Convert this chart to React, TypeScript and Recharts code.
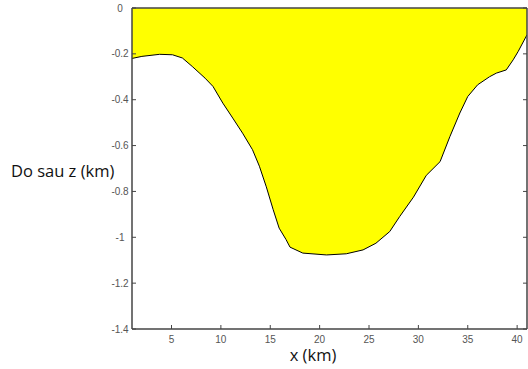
import React from 'react';
import { AreaChart, Area, XAxis, YAxis, Label } from 'recharts';

const distanceKm = [1, 2, 3.8, 5.1, 6.1, 7.1, 8.4, 9.2, 10.2, 11.2, 12.2, 13.2, 13.9, 14.6, 15.3, 15.9, 16.6, 17, 18.3, 20.7, 22.7, 24.4, 25.7, 27.1, 28.1, 29.5, 30.8, 32.2, 33.2, 34.2, 35, 36, 37.2, 37.9, 38.9, 39.6, 40.1, 41];
const depthKm = [-0.22, -0.211, -0.202, -0.204, -0.218, -0.255, -0.306, -0.342, -0.415, -0.48, -0.546, -0.618, -0.69, -0.78, -0.88, -0.96, -1.01, -1.043, -1.069, -1.077, -1.072, -1.055, -1.026, -0.975, -0.91, -0.825, -0.73, -0.67, -0.56, -0.458, -0.386, -0.335, -0.3, -0.284, -0.27, -0.226, -0.19, -0.117];
const xTicks = [5, 10, 15, 20, 25, 30, 35, 40];
const yTicks = [0, -0.2, -0.4, -0.6, -0.8, -1, -1.2, -1.4];
const xLabel = 'x (km)';
const yLabel = 'Do sau z (km)';

const data = distanceKm.map((x, i) => ({ x, z: depthKm[i] }));

const AXIS = '#444';
const TICK_TEXT = '#555';
const TICK_FONT = '"Liberation Sans", Arial, sans-serif';
const LABEL_FONT = '"Open Sans", sans-serif';

const LeftTick = (props: any) => {
  const { x, y, payload } = props;
  return (
    <g>
      <line x1={x} x2={x + 4} y1={y} y2={y} stroke={AXIS} strokeWidth={1} />
      <text x={x - 12} y={y} textAnchor="middle" dominantBaseline="central" fill={TICK_TEXT} fontSize={10} fontFamily={TICK_FONT}>
        {String(payload.value)}
      </text>
    </g>
  );
};

const RightTick = (props: any) => {
  const { x, y } = props;
  return <line x1={x - 4} x2={x} y1={y} y2={y} stroke={AXIS} strokeWidth={1} />;
};

const BottomTick = (props: any) => {
  const { x, y, payload } = props;
  return (
    <g>
      <line x1={x} x2={x} y1={y - 4} y2={y} stroke={AXIS} strokeWidth={1} />
      <text x={x} y={y + 10} textAnchor="middle" dominantBaseline="central" fill={TICK_TEXT} fontSize={10} fontFamily={TICK_FONT}>
        {String(payload.value)}
      </text>
    </g>
  );
};

const YLabelContent = (props: any) => {
  const vb = props.viewBox || {};
  return (
    <text x={vb.x + 11} y={vb.y + vb.height / 2 + 2} dominantBaseline="central" fill="#111" fontSize={16.5} fontFamily={LABEL_FONT}>
      {yLabel}
    </text>
  );
};

const XLabelContent = (props: any) => {
  const vb = props.viewBox || {};
  return (
    <text x={vb.x + vb.width / 2 - 16.5} y={vb.y + 25.5} textAnchor="middle" dominantBaseline="central" fill="#111" fontSize={16.5} fontFamily={LABEL_FONT}>
      {xLabel}
    </text>
  );
};

export default function App() {
  return (
    <div style={{ position: 'absolute', left: 0, top: 0, width: 528, height: 369, background: '#fff' }}>
      <AreaChart width={528} height={369} data={data} margin={{ top: 0, right: 0, bottom: 0, left: 0 }}>
        <XAxis
          dataKey="x"
          type="number"
          domain={[1, 41]}
          ticks={xTicks}
          interval={0}
          allowDataOverflow
          height={40}
          tickSize={0}
          tickMargin={0}
          tickLine={false}
          axisLine={{ stroke: AXIS, strokeWidth: 1.5 }}
          tick={<BottomTick />}
        >
          <Label content={<XLabelContent />} />
        </XAxis>
        <XAxis
          xAxisId="top"
          orientation="top"
          dataKey="x"
          type="number"
          domain={[1, 41]}
          allowDataOverflow
          height={8}
          tick={false}
          tickLine={false}
          axisLine={{ stroke: AXIS, strokeWidth: 1.5 }}
        />
        <YAxis
          type="number"
          domain={[-1.4, 0]}
          ticks={yTicks}
          interval={0}
          allowDataOverflow
          width={132}
          tickSize={0}
          tickMargin={0}
          tickLine={false}
          axisLine={{ stroke: AXIS, strokeWidth: 1.5 }}
          tick={<LeftTick />}
        >
          <Label content={<YLabelContent />} />
        </YAxis>
        <YAxis
          yAxisId="right"
          orientation="right"
          type="number"
          domain={[-1.4, 0]}
          ticks={yTicks}
          interval={0}
          allowDataOverflow
          width={1}
          tickSize={0}
          tickMargin={0}
          tickLine={false}
          axisLine={{ stroke: AXIS, strokeWidth: 1.5 }}
          tick={<RightTick />}
        />
        <Area
          dataKey="z"
          type="linear"
          baseValue={0}
          stroke="#000"
          strokeWidth={1}
          fill="#ffff00"
          fillOpacity={1}
          dot={false}
          activeDot={false}
          isAnimationActive={false}
        />
      </AreaChart>
    </div>
  );
}
